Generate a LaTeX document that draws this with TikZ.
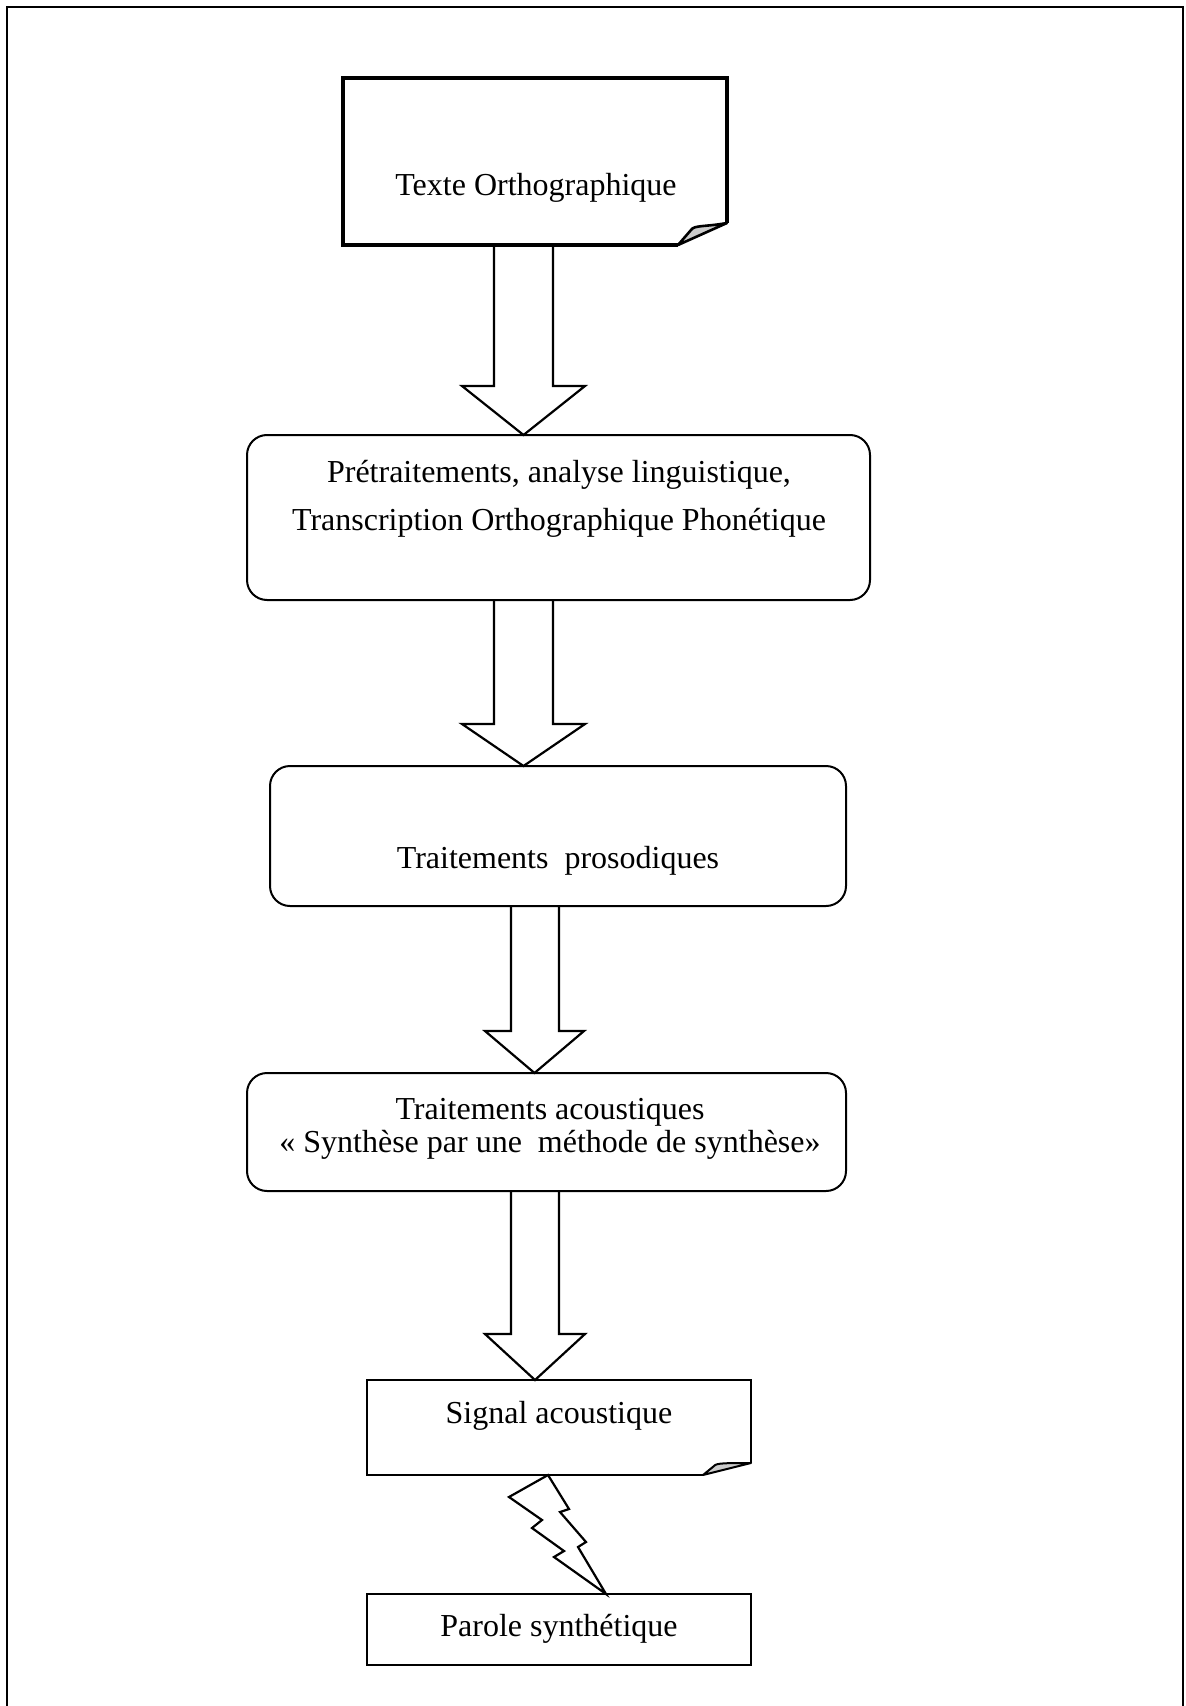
\documentclass[tikz,border=0pt]{standalone}
\usepackage{fontspec}
\setmainfont{Liberation Serif}
\usetikzlibrary{calc}
\begin{document}
\begin{tikzpicture}[x=0.5pt,y=-0.5pt,
  every node/.style={outer sep=0pt,inner sep=0pt},
  area/.style 2 args={minimum width=#1*0.5pt,minimum height=#2*0.5pt},
  txt/.style={font=\fontsize{16}{19.5}\selectfont,align=center},
  roundbox/.style={draw,line width=1pt,rounded corners=10pt},
  plainbox/.style={draw,line width=1pt},
  docline/.style={line width=1.2pt,line join=miter},
  fold/.style={fill=gray!40,line width=1pt,line join=round},
  barrow/.style={draw,line width=1.1pt,line join=miter},
  bolt/.style={draw,line width=1.1pt,line join=miter}]

\useasboundingbox (0,0) rectangle (1186,1706);
% page frame, open at the bottom
\draw[line width=1pt] (7,1706) -- (7,7) -- (1183,7) -- (1183,1706);

% boxes
\node[area={384}{167}] (doc) at (535,161.5) {};
\node[roundbox,area={623}{165}] (pre) at (558.5,517.5) {};
\node[roundbox,area={576}{140}] (pros) at (558,836) {};
\node[roundbox,area={599}{118}] (acou) at (546.5,1132) {};
\node[area={384}{95}] (sig) at (559,1427.5) {};
\node[plainbox,area={384}{71}] (par) at (559,1629.5) {};

% texts
\node[txt] (tdoc) at (536,188) {Texte Orthographique};
\node[txt,font=\fontsize{16}{24}\selectfont] (tpre) at (559,499) {Prétraitements, analyse linguistique,\\Transcription Orthographique Phonétique};
\node[txt] (tpros) at (558,861) {Traitements~ prosodiques};
\node[txt,font=\fontsize{16}{16.5}\selectfont] (tacou) at (550,1129) {Traitements acoustiques\\« Synthèse par une~ méthode de synthèse»};
\node[txt] (tsig) at (559,1416) {Signal acoustique};
\node[txt] (tpar) at (559,1629) {Parole synthétique};

% document with folded corner: Texte Orthographique
\draw[line width=1.75pt,line join=miter]
  ($(doc.south east)+(-49,0)$) -- (doc.south west) -- (doc.north west)
  -- (doc.north east) -- ($(doc.south east)+(0,-22)$);
\filldraw[fold,line width=1.3pt]
  ($(doc.south east)+(-49,0)$) -- ($(doc.south east)+(-36,-15)$)
  .. controls ($(doc.south east)+(-33,-20)$) and ($(doc.south east)+(-22,-18)$)
  .. ($(doc.south east)+(0,-22)$) -- cycle;

% document with folded corner: Signal acoustique
\draw[docline,line width=1pt]
  ($(sig.south east)+(-48,0)$) -- (sig.south west) -- (sig.north west)
  -- (sig.north east) -- ($(sig.south east)+(0,-12)$);
\filldraw[fold]
  ($(sig.south east)+(-48,0)$) -- ($(sig.south east)+(-37,-9)$)
  .. controls ($(sig.south east)+(-35,-12)$) and ($(sig.south east)+(-25,-12)$)
  .. ($(sig.south east)+(0,-12)$) -- cycle;

% block arrows between stages
\newcommand\blockarrow[8]{%
  \draw[barrow] (#3,0 |- #1.south) -- (#3,#7) -- (#5,#7) -- (#8,0 |- #2.north)
    -- (#6,#7) -- (#4,#7) -- (#4,0 |- #1.south);}
\blockarrow{doc}{pre}{494}{553}{462}{585}{386}{523.5}
\blockarrow{pre}{pros}{494}{553}{462}{585}{724}{523.5}
\blockarrow{pros}{acou}{511}{559}{485}{584}{1031}{534.5}
\blockarrow{acou}{sig}{511}{559}{485}{585}{1334}{535}

% lightning bolt from the signal to the speech
\coordinate (btop) at (548,0 |- sig.south);
\coordinate (bbot) at (606,0 |- par.north);
\draw[bolt] (btop) -- (509,1497) -- (542,1520) -- (532,1528) -- (564,1551)
  -- (554,1557) -- (bbot) -- (578,1547) -- (586,1542) -- (560,1512)
  -- (569,1509) -- cycle;
\end{tikzpicture}
\end{document}
